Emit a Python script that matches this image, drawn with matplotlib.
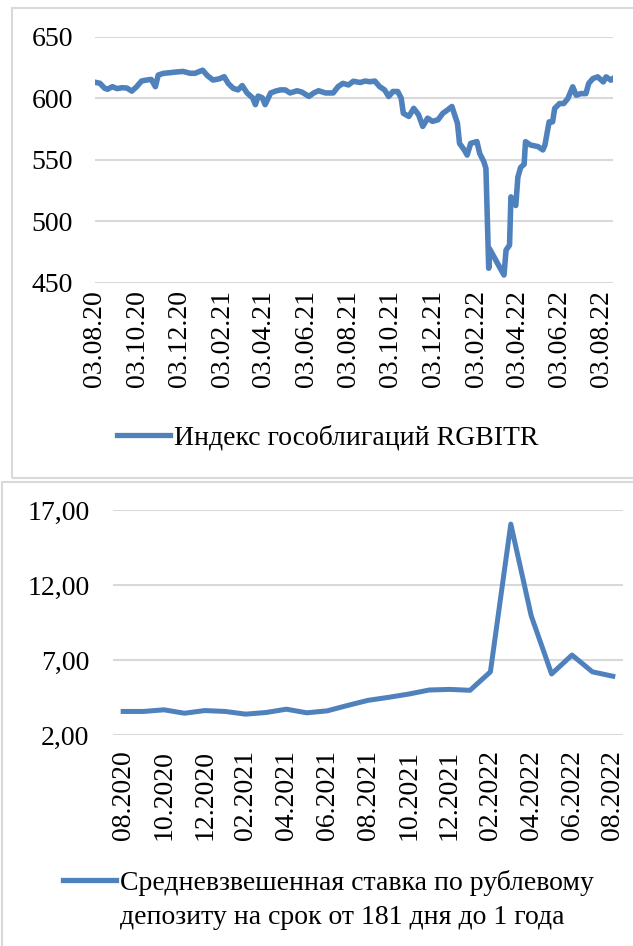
import numpy as np
import pandas as pd
import matplotlib
matplotlib.use('Agg')
import matplotlib.pyplot as plt
import matplotlib.dates as mdates
from matplotlib.patches import Rectangle
from matplotlib.lines import Line2D

plt.rcParams['font.family'] = ['Liberation Serif', 'DejaVu Serif']

# RGBITR index, values
rgbi_dates = [
    '2020-08-03', '2020-08-10', '2020-08-17', '2020-08-21', '2020-08-28',
    '2020-09-04', '2020-09-11', '2020-09-18', '2020-09-25', '2020-10-02',
    '2020-10-09', '2020-10-16', '2020-10-23', '2020-10-29', '2020-11-02',
    '2020-11-09', '2020-11-19', '2020-11-27', '2020-12-08', '2020-12-18',
    '2020-12-25', '2021-01-05', '2021-01-12', '2021-01-20', '2021-01-29',
    '2021-02-05', '2021-02-11', '2021-02-18', '2021-02-25', '2021-03-03',
    '2021-03-10', '2021-03-18', '2021-03-22', '2021-03-26', '2021-04-01',
    '2021-04-05', '2021-04-13', '2021-04-20', '2021-04-27', '2021-05-04',
    '2021-05-11', '2021-05-21', '2021-05-28', '2021-06-07', '2021-06-14',
    '2021-06-21', '2021-07-01', '2021-07-12', '2021-07-19', '2021-07-26',
    '2021-08-03', '2021-08-10', '2021-08-20', '2021-08-27', '2021-09-03',
    '2021-09-10', '2021-09-17', '2021-09-24', '2021-09-30', '2021-10-06',
    '2021-10-13', '2021-10-18', '2021-10-21', '2021-10-29', '2021-11-05',
    '2021-11-12', '2021-11-18', '2021-11-25', '2021-12-02', '2021-12-10',
    '2021-12-17', '2021-12-24', '2021-12-30', '2022-01-07', '2022-01-10',
    '2022-01-17', '2022-01-21', '2022-01-26', '2022-02-04', '2022-02-08',
    '2022-02-14', '2022-02-17', '2022-02-21', '2022-02-22', '2022-03-15',
    '2022-03-18', '2022-03-23', '2022-03-25', '2022-04-01', '2022-04-04',
    '2022-04-08', '2022-04-13', '2022-04-15', '2022-04-22', '2022-05-03',
    '2022-05-10', '2022-05-13', '2022-05-19', '2022-05-24', '2022-05-27',
    '2022-06-03', '2022-06-09', '2022-06-15', '2022-06-22', '2022-06-27',
    '2022-07-04', '2022-07-11', '2022-07-15', '2022-07-21', '2022-07-28',
    '2022-08-05', '2022-08-09', '2022-08-16', '2022-08-19',
]
rgbi_values = [
    613.2, 612.4, 608.3, 607.5, 609.6,
    608.0, 608.8, 608.5, 606.0, 609.6,
    614.2, 615.0, 615.5, 609.6, 619.0,
    620.4, 621.0, 621.5, 622.0, 620.5,
    620.5, 623.0, 618.5, 615.0, 616.0,
    617.7, 612.2, 608.3, 607.0, 610.5,
    604.5, 600.5, 595.0, 602.0, 600.5,
    595.0, 604.5, 606.0, 607.0, 607.0,
    604.5, 606.3, 605.2, 601.7, 604.5,
    606.3, 604.5, 604.5, 609.6, 612.3,
    611.0, 614.0, 613.0, 614.2, 613.6,
    614.2, 609.6, 607.0, 601.6, 605.7,
    605.7, 600.2, 588.0, 585.4, 592.0,
    586.8, 577.3, 584.0, 581.4, 582.7,
    588.0, 590.8, 593.5, 579.8, 563.5,
    558.0, 554.0, 563.5, 565.0, 555.3,
    548.6, 543.2, 462.0, 478.0, 456.5,
    476.8, 480.8, 520.0, 513.0, 536.0,
    544.0, 546.5, 564.9, 562.2, 560.9,
    558.2, 562.2, 581.0, 581.0, 591.9,
    595.9, 595.9, 600.0, 609.5, 602.7,
    604.0, 604.0, 612.2, 616.2, 617.6,
    613.5, 617.6, 614.9, 616.2,
]
rgbi_ticks = ['2020-08-03', '2020-10-03', '2020-12-03', '2021-02-03', '2021-04-03',
              '2021-06-03', '2021-08-03', '2021-10-03', '2021-12-03', '2022-02-03',
              '2022-04-03', '2022-06-03', '2022-08-03']
rgbi_label = 'Индекс гособлигаций RGBITR'

# weighted average deposit rate, monthly
months = ['08.2020', '09.2020', '10.2020', '11.2020', '12.2020', '01.2021', '02.2021',
          '03.2021', '04.2021', '05.2021', '06.2021', '07.2021', '08.2021', '09.2021',
          '10.2021', '11.2021', '12.2021', '01.2022', '02.2022', '03.2022', '04.2022',
          '05.2022', '06.2022', '07.2022', '08.2022']
rates = [3.57, 3.57, 3.68, 3.45, 3.63, 3.57, 3.39, 3.50, 3.72, 3.48, 3.61, 3.97, 4.31,
         4.51, 4.73, 5.00, 5.04, 4.98, 6.21, 16.06, 9.95, 6.07, 7.33, 6.21, 5.92]
rate_label_1 = 'Средневзвешенная ставка по рублевому'
rate_label_2 = 'депозиту на срок от 181 дня до 1 года'

W, H = 633, 946
blue = '#4f81bd'
grid = '#d9d9d9'
fs = 20

fig = plt.figure(figsize=(W / 100, H / 100), dpi=100)


def px_rect(x0, y0, x1, y1):
    # pixel box (top-left origin) -> figure fraction [l, b, w, h]
    return [x0 / W, 1 - y1 / H, (x1 - x0) / W, (y1 - y0) / H]


# panel borders
fig.patches.append(Rectangle((12 / W, 1 - 478 / H), (W + 5 - 12) / W, 470 / H,
                             transform=fig.transFigure, fill=False, ec=grid, lw=1.5))
fig.patches.append(Rectangle((2 / W, 1 - (H + 5) / H), (W + 5) / W, (H + 5 - 482) / H,
                             transform=fig.transFigure, fill=False, ec=grid, lw=1.5))

# top chart
ax1 = fig.add_axes(px_rect(95, 37, 613, 283))
d = pd.to_datetime(rgbi_dates)
ax1.plot(d, rgbi_values, color=blue, lw=4.0, solid_joinstyle='round', label=rgbi_label)
ax1.set_xlim(d[0], d[-1])
ax1.set_ylim(450, 650)
ax1.set_yticks([450, 500, 550, 600, 650])
ax1.set_xticks(pd.to_datetime(rgbi_ticks))
ax1.xaxis.set_major_formatter(mdates.DateFormatter('%d.%m.%y'))
for s in ax1.spines.values():
    s.set_visible(False)
ax1.grid(axis='y', color=grid, lw=1.5)
ax1.set_axisbelow(True)
ax1.tick_params(length=0, labelsize=fs)
ax1.tick_params(axis='y', pad=16)
ax1.tick_params(axis='x', pad=5, labelrotation=90)
fig.legend(handles=[Line2D([], [], color=blue, lw=3.8)], labels=[rgbi_label],
           loc='center left', bbox_to_anchor=(117 / W, 1 - 438 / H), frameon=False,
           fontsize=fs, borderpad=0, borderaxespad=0, handlelength=1.9,
           handletextpad=0.15)

# bottom chart
ax2 = fig.add_axes(px_rect(113, 510, 623, 735))
x = np.arange(len(months))
ax2.plot(x, rates, color=blue, lw=3.6, solid_joinstyle='round')
ax2.set_xlim(-0.5, len(months) - 0.5)
ax2.set_ylim(2, 17)
ax2.set_yticks([2, 7, 12, 17])
ax2.set_yticklabels([f'{v:.2f}'.replace('.', ',') for v in [2, 7, 12, 17]])
ax2.set_xticks(x[::2])
ax2.set_xticklabels(months[::2], rotation=90)
for s in ax2.spines.values():
    s.set_visible(False)
ax2.grid(axis='y', color=grid, lw=1.5)
ax2.set_axisbelow(True)
ax2.tick_params(length=0, labelsize=fs)
ax2.tick_params(axis='y', pad=17)
ax2.tick_params(axis='x', pad=11)
fig.legend(handles=[Line2D([], [], color=blue, lw=3.8)], labels=[rate_label_1],
           loc='center left', bbox_to_anchor=(63 / W, 1 - 883 / H), frameon=False,
           fontsize=fs, borderpad=0, borderaxespad=0, handlelength=1.9,
           handletextpad=0.15)
fig.text(120 / W, 1 - 917 / H, rate_label_2, fontsize=fs, va='center', ha='left')

fig.savefig('out.png', dpi=100)
